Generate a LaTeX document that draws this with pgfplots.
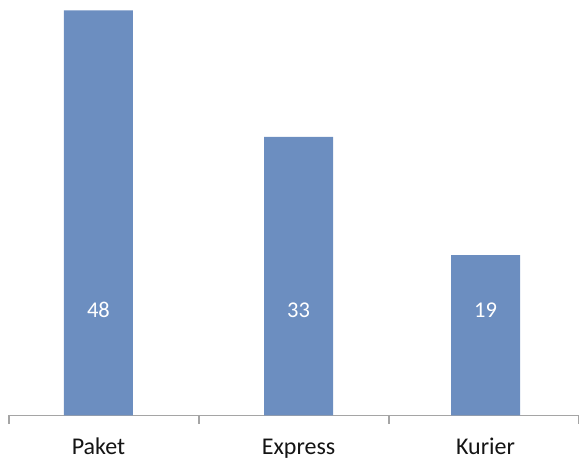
\documentclass[border=0pt]{standalone}
\usepackage{fontspec}
\setmainfont{Carlito}
\usepackage{pgfplots}
\pgfplotsset{compat=1.18}
\definecolor{barblue}{RGB}{108,142,192}
\definecolor{axgray}{RGB}{165,165,165}
\definecolor{txt}{RGB}{20,20,20}
\begin{document}
\begin{tikzpicture}
\useasboundingbox (0,0) rectangle (579pt,462pt);
\begin{axis}[
  at={(9pt,46.5pt)}, anchor=south west,
  scale only axis, width=570pt, height=415.5pt,
  xmin=-0.5, xmax=2.5, ymin=0, ymax=49.23,
  axis x line=bottom, axis y line=none,
  axis line style={draw=axgray, line width=1.2pt, -},
  xtick={-0.029,1.024,2.008},
  xticklabels={Paket,Express,Kurier},
  major tick length=0pt,
  tick align=outside,
  extra x ticks={-0.5,0.5,1.5,2.5},
  extra x tick labels={},
  extra x tick style={major tick length=8.5pt, tick style={draw=axgray, line width=1.2pt}},
  xticklabel style={anchor=base, yshift=-39pt, text=txt, font=\fontsize{24}{28}\selectfont},
  clip=false,
]
\addplot[ybar, bar width=69pt, fill=barblue, draw=none] coordinates {(-0.029,48) (1.024,33) (2.008,19)};
\addplot[draw=none, nodes near coords, point meta=explicit symbolic,
  nodes near coords style={anchor=center, text=white, font=\fontsize{22.5}{26}\selectfont}]
  coordinates {(-0.029,12.5)[48] (1.024,12.5)[33] (2.008,12.5)[19]};
\end{axis}
\end{tikzpicture}
\end{document}
